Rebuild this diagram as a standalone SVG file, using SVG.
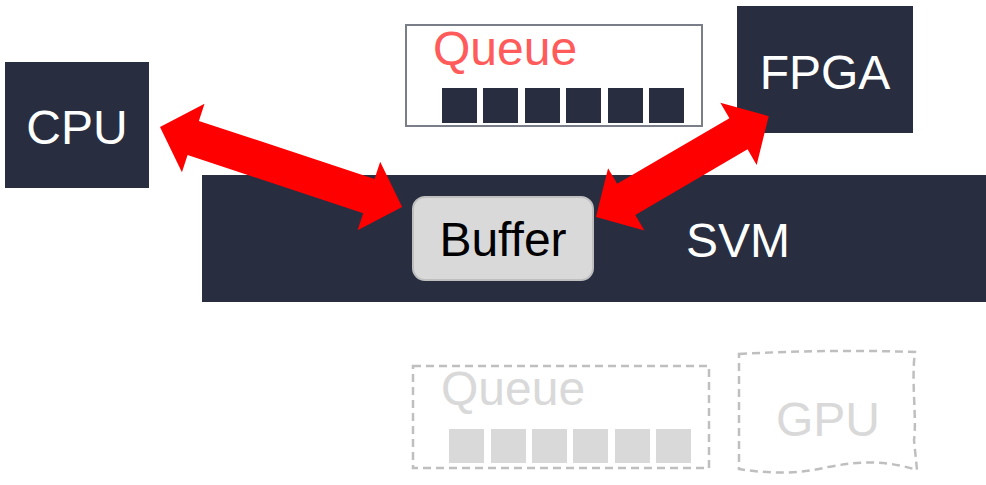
<svg xmlns="http://www.w3.org/2000/svg" width="986" height="485" viewBox="0 0 986 485">
<style>
.dark{fill:#282d40}
.lbl{font-family:"Liberation Sans",Arial,sans-serif;font-size:48px}
.w{fill:#ffffff}
.sq{fill:#282d40}
.gsq{fill:#d9d9d9}
.dash{fill:none;stroke:#bfbfbf;stroke-width:2.5;stroke-dasharray:8 5}
.arrow{fill:#ff0000}
</style>
<rect width="986" height="485" fill="#ffffff"/>
<g id="cpu">
<rect class="dark" x="5" y="62" width="144" height="126"/>
<text class="lbl w" x="77" y="144" text-anchor="middle">CPU</text>
</g>
<g id="fpga">
<rect class="dark" x="737" y="6" width="176" height="127"/>
<text class="lbl w" x="825" y="89" text-anchor="middle">FPGA</text>
</g>
<g id="svm">
<rect class="dark" x="202" y="175" width="784" height="127"/>
<text class="lbl w" x="738" y="257" text-anchor="middle">SVM</text>
</g>
<g id="buffer">
<rect x="413" y="197" width="180" height="83" rx="12" fill="#d9d9d9" stroke="#bfbfbf" stroke-width="2"/>
<text class="lbl" x="503" y="256" text-anchor="middle" font-size="46" fill="#000000">Buffer</text>
</g>
<g id="queue-top">
<rect x="406" y="25" width="296" height="101" fill="#ffffff" stroke="#7a7e88" stroke-width="2"/>
<text class="lbl" x="433" y="65" fill="#ff5b5b">Queue</text>
<rect class="sq" x="442" y="88" width="35" height="35"/>
<rect class="sq" x="483" y="88" width="35" height="35"/>
<rect class="sq" x="525" y="88" width="35" height="35"/>
<rect class="sq" x="566" y="88" width="35" height="35"/>
<rect class="sq" x="608" y="88" width="35" height="35"/>
<rect class="sq" x="649" y="88" width="35" height="35"/>
</g>
<g id="queue-bottom">
<rect class="dash" x="413" y="366" width="296" height="102"/>
<text class="lbl" x="441" y="405" fill="#d9d9d9">Queue</text>
<rect class="gsq" x="449" y="429" width="35" height="34"/>
<rect class="gsq" x="491" y="429" width="35" height="34"/>
<rect class="gsq" x="532" y="429" width="35" height="34"/>
<rect class="gsq" x="573" y="429" width="35" height="34"/>
<rect class="gsq" x="615" y="429" width="35" height="34"/>
<rect class="gsq" x="656" y="429" width="35" height="34"/>
</g>
<g id="gpu">
<path class="dash" d="M739,354 Q828,349 915,352 C911,380 917,420 914,440 L917,470 C885,460 860,461 828,467 C800,474 770,474 739,469 Z"/>
<text class="lbl" x="828" y="436" text-anchor="middle" fill="#d9d9d9">GPU</text>
</g>
<g id="connectors">
<polygon class="arrow" transform="translate(160,127) rotate(18.29)" points="0,0 35,-36 35,-18 220,-18 220,-36 255,0 220,36 220,18 35,18 35,36"/>
<polygon class="arrow" transform="translate(596,217) rotate(-30.28)" points="0,0 35,-36 35,-18 165,-18 165,-36 200,0 165,36 165,18 35,18 35,36"/>
</g>
</svg>
